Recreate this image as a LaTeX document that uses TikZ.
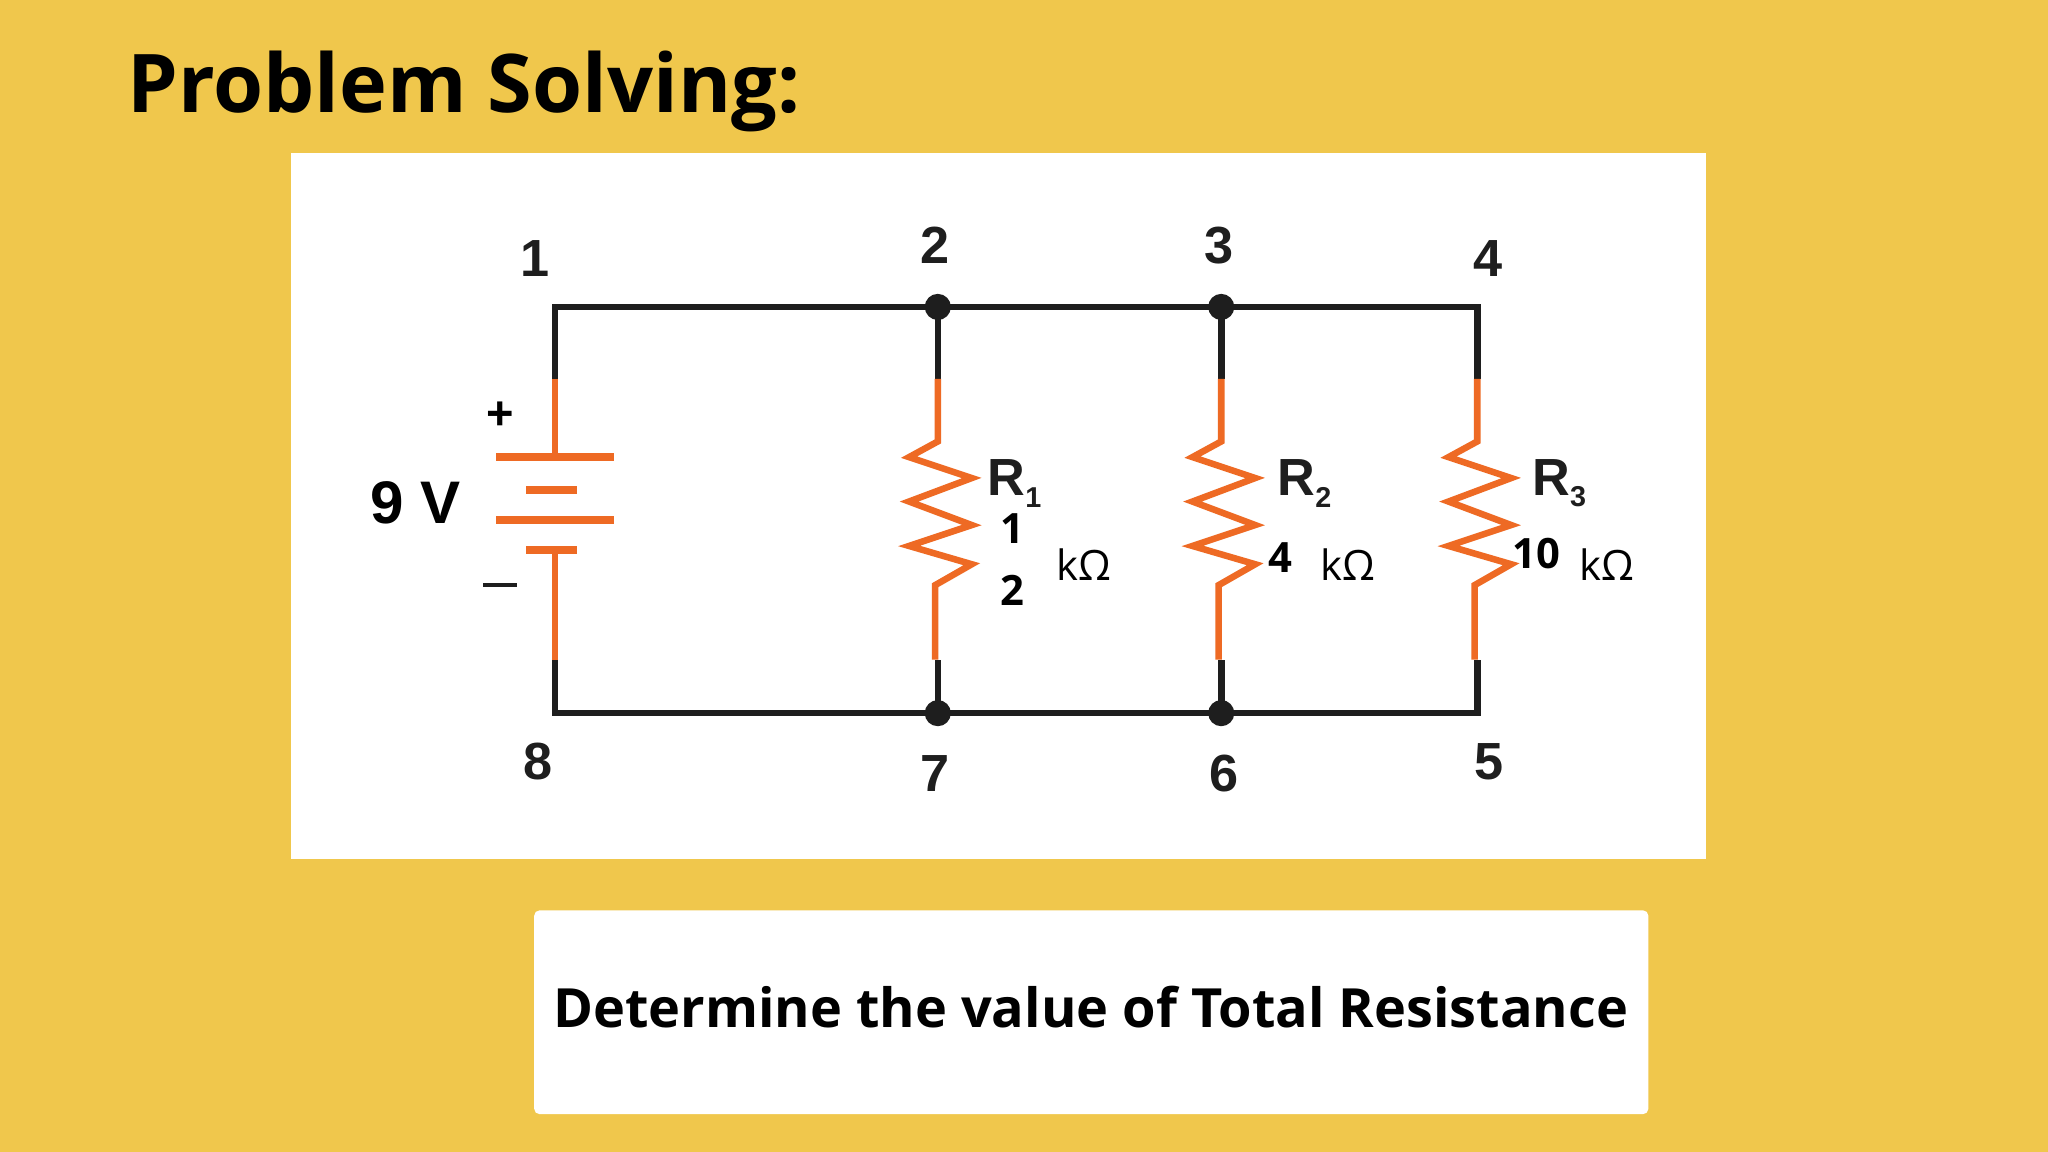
\documentclass[tikz,border=0pt]{standalone}
\usepackage{fontspec}
\setmainfont{Open Sans}
\newfontfamily\arial{Liberation Sans}
\definecolor{bgY}{RGB}{240,199,76}
\definecolor{orng}{RGB}{238,106,36}
\definecolor{wire}{RGB}{30,30,30}
\begin{document}
\begin{tikzpicture}[x=1pt,y=-1pt,
  blk/.style={draw=wire,line width=5pt},
  org/.style={draw=orng,line width=5pt},
  plate/.style={draw=orng,line width=6pt},
  dot/.style={circle,fill=wire,inner sep=0pt,minimum size=20pt},
  num/.style={font=\arial\bfseries\fontsize{40}{40}\selectfont,text=wire},
  rl/.style={font=\arial\bfseries\fontsize{40}{40}\selectfont,text=wire,inner sep=0pt},
  val/.style={font=\bfseries\fontsize{32}{32}\selectfont,inner sep=0pt},
  unit/.style={font=\fontsize{32}{32}\selectfont,inner sep=0pt}]
\fill[bgY] (0,0) rectangle (1568,882);
\useasboundingbox (0,0) rectangle (1568,882);
\node[anchor=west,font=\bfseries\fontsize{62}{62}\selectfont] (title) at (94,70) {Problem Solving:};
\fill[white] (223,117) rectangle (1306,658);
\fill[white,rounded corners=4pt] (409,697) rectangle (1262,853);
\node[font=\bfseries\fontsize{41.4}{41.4}\selectfont] (q) at (835,771) {Determine the value of Total Resistance};
\coordinate (c1) at (425,235);
\node[dot] (c2) at (718,235) {};
\node[dot] (c3) at (935,235) {};
\coordinate (c4) at (1131,235);
\coordinate (c8) at (425,546);
\node[dot] (c7) at (718,546) {};
\node[dot] (c6) at (935,546) {};
\coordinate (c5) at (1131,546);
\draw[blk,line join=miter] (425,290) |- (c2.center) -- (c3.center) -| (1131,290);
\draw[blk,line join=miter] (425,505) |- (c7.center) -- (c6.center) -| (1131,505);
\draw[blk] (c2.center) -- (718,290);
\draw[blk] (c3.center) -- (935,290);
\draw[blk] (c7.center) -- (718,505);
\draw[blk] (c6.center) -- (935,505);
% battery
\draw[org] (425,290) -- (425,350);
\draw[plate] (380,350) -- (470,350);
\draw[plate] (403,375) -- (442,375);
\draw[plate] (380,398) -- (470,398);
\draw[plate] (403,421) -- (442,421);
\draw[org] (425,421) -- (425,505);
\node[font=\arial\bfseries\fontsize{36}{36}\selectfont] (plus) at (383,318) {+};
\draw[wire,line width=3.5pt] (370,448) -- (396,448);
\node[font=\arial\bfseries\fontsize{46}{46}\selectfont] (volt) at (318,385) {9 V};
% resistors
\foreach \x in {718,935,1131}{
  \draw[org,line join=miter] (\x,290) -- (\x,338) -- (\x-22,350) -- (\x+26,366) -- (\x-22,384) -- (\x+26,402) -- (\x-22,418) -- (\x+26,432) -- (\x-2,448) -- (\x-2,505);
}
% numbers
\node[num] (n1) at (410,198) {1};
\node[num] (n2) at (716,188) {2};
\node[num] (n3) at (933,188) {3};
\node[num] (n4) at (1139,198) {4};
\node[num] (n8) at (412,583) {8};
\node[num] (n7) at (716,592) {7};
\node[num] (n6) at (937,592) {6};
\node[num] (n5) at (1140,583) {5};
% labels
\node[rl,anchor=west] (r1) at (756,370) {R\raisebox{-9pt}{\fontsize{22}{22}\selectfont 1}};
\node[rl,anchor=west] (r2) at (978,370) {R\raisebox{-9pt}{\fontsize{22}{22}\selectfont 2}};
\node[rl,anchor=west] (r3) at (1173,370) {R\raisebox{-9pt}{\fontsize{22}{22}\selectfont 3}};
\node[val] (v1a) at (775,405) {1};
\node[val] (v1b) at (775,452) {2};
\node[unit] (u1) at (830,432) {k\char"03A9};
\node[val] (v2) at (980,427) {4};
\node[unit] (u2) at (1032,432) {k\char"03A9};
\node[val] (v3) at (1176,424) {10};
\node[unit] (u3) at (1230,432) {k\char"03A9};
\end{tikzpicture}
\end{document}
